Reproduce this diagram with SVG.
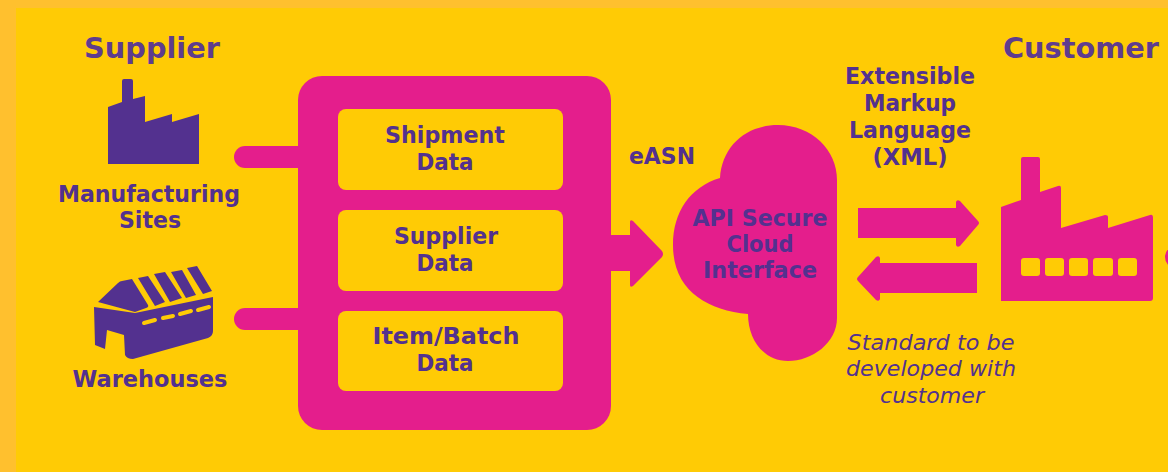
<svg xmlns="http://www.w3.org/2000/svg" width="1168" height="472" viewBox="0 0 1168 472">
<style>
.p{fill:#e41e8c}.v{fill:#53318f}.y{fill:#ffcb05}
text{font-family:"DejaVu Sans",sans-serif;font-weight:700;fill:#53318f;text-anchor:middle;font-size:22.5px}
.h{font-size:28.5px;fill:#5f3c8e}.i{font-weight:400;font-style:italic;font-size:22px}
.d{stroke:#ffcb05;stroke-width:4;stroke-linecap:round;fill:none}
</style>
<rect width="1168" height="472" fill="#ffc02e"/>
<rect x="16" y="8" width="1152" height="464" class="y"/>
<g id="connectors">
<rect x="234" y="146" width="80" height="22" rx="11" class="p"/>
<rect x="234" y="308" width="80" height="22" rx="11" class="p"/>
<path class="p" d="M600 235H630V222Q630 219 633 221L662 251Q664 254 662 257L633 286Q630 288 630 285V271H600Z"/>
<path class="p" d="M858 208H956V202Q957 199 960 201L978 221Q980 223 978 225L960 246Q957 248 956 245V238H858Z"/>
<path class="p" d="M977 263V293H880V299Q879 302 876 300L858 281Q856 279 858 277L876 257Q879 255 880 258V263Z"/>
</g>
<g id="supplier-label"><text class="h" x="152" y="58" textLength="136" lengthAdjust="spacingAndGlyphs">Supplier</text></g>
<g id="customer-label"><text class="h" x="1081" y="58" textLength="156" lengthAdjust="spacingAndGlyphs">Customer</text></g>
<g id="manufacturing-sites">
<path class="v" d="M108 107L122 102V81Q122 79 124 79H131Q133 79 133 81V99L145 96V122L172 114V122L199 114V164H108Z"/>
<text x="149" y="202" textLength="182" lengthAdjust="spacingAndGlyphs">Manufacturing</text>
<text x="150" y="228" textLength="62" lengthAdjust="spacingAndGlyphs">Sites</text>
</g>
<g id="warehouses">
<path class="v" d="M98 302L118 283Q120 281 122 281L132 279L148 305Q149 307 146 308L135 312Z"/>
<path class="v" d="M138 278L148 276L165 302L155 306ZM154 274L165 272L182 298L170 302ZM171 272L182 270L196 295L186 298ZM187 268L197 266L212 291L203 294Z"/>
<path class="v" d="M94 307L135 313L213 297V331Q213 336 208 338L133 359Q127 359 125 355L124 335L107 330L105 349L95 345Z"/>
<path class="d" d="M144 323L155 320M163 318L173 316M180 314L191 311M198 310L209 307"/>
<text x="150" y="387" textLength="155" lengthAdjust="spacingAndGlyphs">Warehouses</text>
</g>
<g id="data-panel">
<rect x="298" y="76" width="313" height="354" rx="24" class="p"/>
</g>
<g id="shipment-data">
<rect x="338" y="109" width="225" height="81" rx="8" class="y"/>
<text x="445" y="143" textLength="120" lengthAdjust="spacingAndGlyphs">Shipment</text>
<text x="445" y="170" textLength="57" lengthAdjust="spacingAndGlyphs">Data</text>
</g>
<g id="supplier-data">
<rect x="338" y="210" width="225" height="81" rx="8" class="y"/>
<text x="446" y="244" textLength="104" lengthAdjust="spacingAndGlyphs">Supplier</text>
<text x="445" y="271" textLength="57" lengthAdjust="spacingAndGlyphs">Data</text>
</g>
<g id="item-batch-data">
<rect x="338" y="311" width="225" height="80" rx="8" class="y"/>
<text x="446" y="344" textLength="147" lengthAdjust="spacingAndGlyphs">Item/Batch</text>
<text x="445" y="371" textLength="57" lengthAdjust="spacingAndGlyphs">Data</text>
</g>
<g id="easn-label"><text x="662" y="164" textLength="66" lengthAdjust="spacingAndGlyphs">eASN</text></g>
<g id="cloud-interface">
<path class="p" d="M720 178C722 146 746 125 778 125C812 125 837 150 837 180V318C837 343 812 361 788 361C764 361 748 340 748 314C706 310 673 290 673 245C673 212 690 187 720 178Z"/>
<text x="760" y="226" textLength="135" lengthAdjust="spacingAndGlyphs">API Secure</text>
<text x="760" y="252" textLength="67" lengthAdjust="spacingAndGlyphs">Cloud</text>
<text x="760" y="278" textLength="114" lengthAdjust="spacingAndGlyphs">Interface</text>
</g>
<g id="xml-label">
<text x="910" y="84" textLength="130" lengthAdjust="spacingAndGlyphs">Extensible</text>
<text x="910" y="111" textLength="92" lengthAdjust="spacingAndGlyphs">Markup</text>
<text x="910" y="138" textLength="122" lengthAdjust="spacingAndGlyphs">Language</text>
<text x="910" y="165" textLength="75" lengthAdjust="spacingAndGlyphs">(XML)</text>
</g>
<g id="customer-factory">
<path class="p" d="M1001 207L1021 200V159Q1021 157 1023 157H1038Q1040 157 1040 159V192L1058 186Q1061 185 1061 188V228L1105 215Q1108 215 1108 217V228L1150 215Q1153 214 1153 218V298Q1153 301 1150 301H1001Z"/>
<g class="y"><rect x="1021" y="258" width="19" height="18" rx="3"/><rect x="1045" y="258" width="19" height="18" rx="3"/><rect x="1069" y="258" width="19" height="18" rx="3"/><rect x="1093" y="258" width="20" height="18" rx="3"/><rect x="1118" y="258" width="19" height="18" rx="3"/></g>
</g>
<g id="right-stub"><rect x="1165" y="246" width="20" height="22" rx="11" class="p"/></g>
<g id="standard-note">
<text class="i" x="931" y="350" textLength="167" lengthAdjust="spacingAndGlyphs">Standard to be</text>
<text class="i" x="931" y="376" textLength="170" lengthAdjust="spacingAndGlyphs">developed with</text>
<text class="i" x="932" y="403" textLength="104" lengthAdjust="spacingAndGlyphs">customer</text>
</g>
</svg>
